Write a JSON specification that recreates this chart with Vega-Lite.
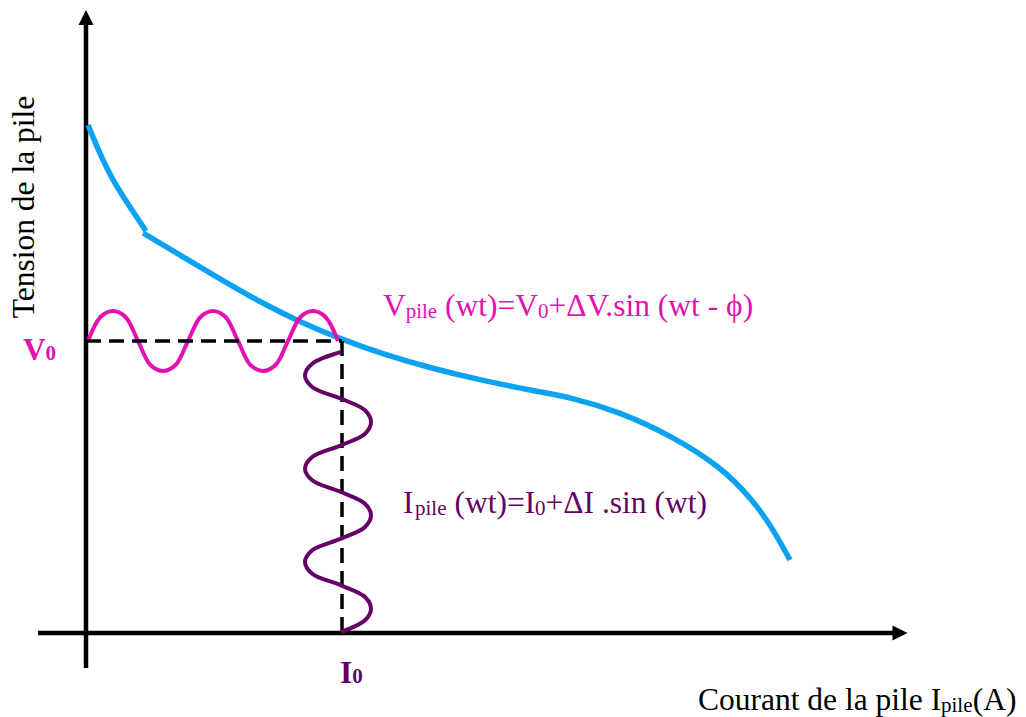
{
  "$schema": "https://vega.github.io/schema/vega-lite/v6.json",
  "width": 1026,
  "height": 717,
  "padding": 0,
  "autosize": {"type": "none"},
  "background": "white",
  "view": {"stroke": null},
  "config": {"text": {"font": "Liberation Serif"}},
  "datasets": {
    "axes": [
      {"X": 0, "Y": -35, "X2": 0, "Y2": 608},
      {"X": -48, "Y": 0, "X2": 807, "Y2": 0}
    ],
    "fleches": [
      {"X": 0, "Y": 615.5, "dir": "haut"},
      {"X": 814, "Y": 0, "dir": "droite"}
    ],
    "repere": [
      {"X": 0, "Y": 292, "X2": 256, "Y2": 292},
      {"X": 256, "Y": 292, "X2": 256, "Y2": 0}
    ],
    "caracteristique": [
      {"troncon": 1, "X": 2, "Y": 508},
      {"troncon": 1, "X": 14, "Y": 479},
      {"troncon": 1, "X": 27, "Y": 452},
      {"troncon": 1, "X": 44, "Y": 426},
      {"troncon": 1, "X": 60, "Y": 402},
      {"troncon": 2, "X": 57, "Y": 400},
      {"troncon": 2, "X": 94, "Y": 378},
      {"troncon": 2, "X": 134, "Y": 354},
      {"troncon": 2, "X": 174, "Y": 331},
      {"troncon": 2, "X": 214, "Y": 311},
      {"troncon": 2, "X": 257, "Y": 293},
      {"troncon": 2, "X": 294, "Y": 280},
      {"troncon": 2, "X": 344, "Y": 265},
      {"troncon": 2, "X": 394, "Y": 253},
      {"troncon": 2, "X": 444, "Y": 243},
      {"troncon": 3, "X": 444, "Y": 243},
      {"troncon": 3, "X": 484, "Y": 236},
      {"troncon": 3, "X": 534, "Y": 221},
      {"troncon": 3, "X": 584, "Y": 198},
      {"troncon": 3, "X": 634, "Y": 167},
      {"troncon": 3, "X": 667, "Y": 133},
      {"troncon": 3, "X": 687, "Y": 104},
      {"troncon": 3, "X": 704, "Y": 73}
    ],
    "tension": [
      {"X": 2, "Y": 292}, {"X": 14.5, "Y": 316}, {"X": 27, "Y": 322}, {"X": 39.5, "Y": 316},
      {"X": 52, "Y": 292}, {"X": 64.5, "Y": 268}, {"X": 77, "Y": 262}, {"X": 89.5, "Y": 268},
      {"X": 102, "Y": 292}, {"X": 114.5, "Y": 316}, {"X": 127, "Y": 322}, {"X": 139.5, "Y": 316},
      {"X": 152, "Y": 292}, {"X": 164.5, "Y": 268}, {"X": 177, "Y": 262}, {"X": 189.5, "Y": 268},
      {"X": 202, "Y": 292}, {"X": 214.5, "Y": 316}, {"X": 227, "Y": 322}, {"X": 239.5, "Y": 316},
      {"X": 252, "Y": 292}
    ],
    "courant": [
      {"k": 0, "X": 255, "Y": 281}, {"k": 1, "X": 226.2, "Y": 269.3}, {"k": 2, "X": 219, "Y": 257.7},
      {"k": 3, "X": 226.2, "Y": 246}, {"k": 4, "X": 255, "Y": 234.3}, {"k": 5, "X": 279, "Y": 222.7},
      {"k": 6, "X": 285, "Y": 211}, {"k": 7, "X": 279, "Y": 199.3}, {"k": 8, "X": 255, "Y": 187.7},
      {"k": 9, "X": 226.2, "Y": 176}, {"k": 10, "X": 219, "Y": 164.3}, {"k": 11, "X": 226.2, "Y": 152.7},
      {"k": 12, "X": 255, "Y": 141}, {"k": 13, "X": 279, "Y": 129.3}, {"k": 14, "X": 285, "Y": 117.7},
      {"k": 15, "X": 279, "Y": 106}, {"k": 16, "X": 255, "Y": 94.3}, {"k": 17, "X": 226.2, "Y": 82.7},
      {"k": 18, "X": 219, "Y": 71}, {"k": 19, "X": 226.2, "Y": 59.3}, {"k": 20, "X": 255, "Y": 47.7},
      {"k": 21, "X": 279, "Y": 36}, {"k": 22, "X": 285, "Y": 24.3}, {"k": 23, "X": 279, "Y": 12.7},
      {"k": 24, "X": 255, "Y": 1}
    ],
    "textes": [
      {"t": "V", "X": 297, "Y": 317, "eq": "tension", "niveau": "normal"},
      {"t": "pile", "X": 319.7, "Y": 315, "eq": "tension", "niveau": "indice"},
      {"t": "(wt)=V", "X": 359.1, "Y": 317, "eq": "tension", "niveau": "normal"},
      {"t": "0", "X": 452.1, "Y": 315, "eq": "tension", "niveau": "indice"},
      {"t": "+ΔV.sin (wt - ϕ)", "X": 462.6, "Y": 317, "eq": "tension", "niveau": "normal"},
      {"t": "I", "X": 317, "Y": 120, "eq": "courant", "niveau": "normal"},
      {"t": "pile", "X": 329, "Y": 118, "eq": "courant", "niveau": "indice"},
      {"t": "(wt)=I", "X": 368.4, "Y": 120, "eq": "courant", "niveau": "normal"},
      {"t": "0", "X": 449.1, "Y": 118, "eq": "courant", "niveau": "indice"},
      {"t": "+ΔI .sin (wt)", "X": 459.6, "Y": 120, "eq": "courant", "niveau": "normal"},
      {"t": "Courant de la pile I", "X": 612, "Y": -77, "eq": "axe", "niveau": "normal"},
      {"t": "pile", "X": 855, "Y": -78.5, "eq": "axe", "niveau": "indice"},
      {"t": "(A)", "X": 886.7, "Y": -77, "eq": "axe", "niveau": "normal"}
    ],
    "points": [
      {"t": "V", "X": -63, "Y": 273, "eq": "tension", "niveau": "normal"},
      {"t": "0", "X": -40.5, "Y": 273, "eq": "tension", "niveau": "indice"},
      {"t": "I", "X": 254, "Y": -50, "eq": "courant", "niveau": "normal"},
      {"t": "0", "X": 266.3, "Y": -50, "eq": "courant", "niveau": "indice"}
    ],
    "titreY": [
      {"t": "Tension de la pile", "X": -52, "Y": 426}
    ]
  },
  "encoding": {
    "x": {"field": "X", "type": "quantitative", "scale": {"domain": [-86, 940], "nice": false, "zero": false}, "axis": null},
    "y": {"field": "Y", "type": "quantitative", "scale": {"domain": [-84, 633], "nice": false, "zero": false}, "axis": null}
  },
  "layer": [
    {
      "data": {"name": "axes"},
      "mark": {"type": "rule", "color": "black", "strokeWidth": 4.5},
      "encoding": {"x2": {"field": "X2"}, "y2": {"field": "Y2"}}
    },
    {
      "data": {"name": "fleches"},
      "mark": {"type": "point", "filled": true, "color": "black", "size": 225, "opacity": 1, "strokeWidth": 0},
      "encoding": {
        "shape": {"field": "dir", "type": "nominal", "scale": {"domain": ["haut", "droite"], "range": ["M0,-1L-1,1L1,1Z", "M1,0L-1,-1L-1,1Z"]}, "legend": null}
      }
    },
    {
      "data": {"name": "caracteristique"},
      "mark": {"type": "line", "color": "#0BA2F2", "strokeWidth": 5.5, "interpolate": "basis", "strokeCap": "butt"},
      "encoding": {"detail": {"field": "troncon", "type": "nominal"}}
    },
    {
      "data": {"name": "tension"},
      "mark": {"type": "line", "color": "#E311B0", "strokeWidth": 4, "interpolate": "catmull-rom"},
      "encoding": {}
    },
    {
      "data": {"name": "repere"},
      "mark": {"type": "rule", "color": "black", "strokeWidth": 3.5, "strokeDash": [15, 8]},
      "encoding": {"x2": {"field": "X2"}, "y2": {"field": "Y2"}}
    },
    {
      "data": {"name": "courant"},
      "mark": {"type": "line", "color": "#660066", "strokeWidth": 4, "interpolate": "catmull-rom"},
      "encoding": {"order": {"field": "k", "type": "quantitative"}}
    },
    {
      "data": {"name": "textes"},
      "mark": {"type": "text", "align": "left", "baseline": "alphabetic"},
      "encoding": {
        "text": {"field": "t"},
        "color": {"field": "eq", "type": "nominal", "scale": {"domain": ["tension", "courant", "axe"], "range": ["#E311B0", "#660066", "#000000"]}, "legend": null},
        "size": {"field": "niveau", "type": "ordinal", "scale": {"domain": ["normal", "indice"], "range": [31.5, 21]}, "legend": null}
      }
    },
    {
      "data": {"name": "points"},
      "mark": {"type": "text", "align": "left", "baseline": "alphabetic", "fontWeight": "bold"},
      "encoding": {
        "text": {"field": "t"},
        "color": {"field": "eq", "type": "nominal", "scale": {"domain": ["tension", "courant", "axe"], "range": ["#E311B0", "#660066", "#000000"]}, "legend": null},
        "size": {"field": "niveau", "type": "ordinal", "scale": {"domain": ["normal", "indice"], "range": [31.5, 21]}, "legend": null}
      }
    },
    {
      "data": {"name": "titreY"},
      "mark": {"type": "text", "align": "center", "baseline": "alphabetic", "angle": 270, "fontSize": 31.5, "color": "black"},
      "encoding": {"text": {"field": "t"}}
    }
  ]
}
